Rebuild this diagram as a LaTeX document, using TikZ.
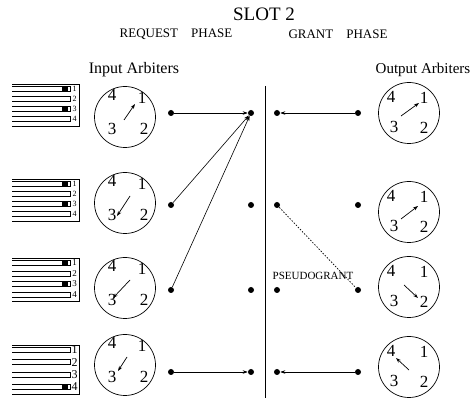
\documentclass[tikz,border=0pt]{standalone}
\usepackage{fontspec}
\setmainfont{Liberation Serif}
\usetikzlibrary{arrows.meta, positioning}
\tikzset{
    slotdiagram/.style={>={Stealth[length=5pt,width=3.5pt]}, line width=0.6pt, x=1pt, y=-1pt},
    dot/.style={fill, circle, inner sep=0pt, minimum size=6pt},
    clock/.style={draw, circle, minimum size=61pt, inner sep=0pt, line width=0.7pt},
    hour/.style={font=\fontsize{17}{17}\selectfont, inner sep=0pt},
    hand/.style={->, line width=0.7pt},
    slotnum/.style={inner sep=0pt},
    heading/.style={font=\fontsize{16}{16}\selectfont},
    phase/.style={font=\fontsize{13}{13}\selectfont},
}

\begin{document}
\begin{tikzpicture}[slotdiagram]
    \useasboundingbox (0,0) rectangle (472,398);

    % titles
    \node[font=\fontsize{19}{19}\selectfont] (slot)  at (264,14) {SLOT 2};
    \node[phase]                             (reqph) at (176,34) {REQUEST\quad PHASE};
    \node[phase]                             (grph)  at (338,34) {GRANT\quad PHASE};
    \node[heading]                           (inarb) at (134,70) {Input Arbiters};
    \node[heading, font=\fontsize{15}{15}\selectfont, inner xsep=1pt] (outarb) at (423,70) {Output\ Arbiters};

    % divider between the two phases
    \coordinate (divtop) at (265,86);
    \coordinate (divbot) at (265,398);
    \draw (divtop) -- (divbot);

    % input queues: group/first slot/spacing/label size/occupied slots
    \foreach \g/\t/\d/\fs/\full in {1/89/10/8/{1,3}, 2/184/10/8/{1,3}, 3/263/10.5/9/{1,3}, 4/350/12.3/12/{4}} {
        \pgfmathsetmacro{\bot}{\t+3*\d+7}
        \draw (12,\t-5) -- (79,\t-5) -- (79,\bot) -- (12,\bot);
        \foreach \k in {1,...,4} {
            \pgfmathsetmacro{\ya}{\t+(\k-1)*\d-2.5}
            \pgfmathsetmacro{\yb}{\t+(\k-1)*\d+2.5}
            \draw (12,\ya) -- (70,\ya) -- (70,\yb) -- (12,\yb);
            \node[slotnum, font=\fontsize{\fs}{\fs}\selectfont] (q\g n\k) at (74.5,{\t+(\k-1)*\d}) {\k};
        }
        \foreach \k in \full {
            \fill (62,{\t+(\k-1)*\d-2.5}) rectangle (68,{\t+(\k-1)*\d+2.5});
        }
    }

    % input arbiters: row/centre y/hand start/hand end
    \foreach \i/\y/\hx/\hy/\tx/\ty in {1/117/-1/3/10/-13, 2/203/5/-7/-8/13, 3/288/5/-8/-12/10, 4/365/2/-8/-7/6} {
        \node[clock] (in\i) at (125,\y) {};
        \node[hour] (in\i h4) at ([shift={(-13,-22)}]in\i.center) {4};
        \node[hour] (in\i h1) at ([shift={(17,-19)}]in\i.center) {1};
        \node[hour] (in\i h3) at ([shift={(-13,12)}]in\i.center) {3};
        \node[hour] (in\i h2) at ([shift={(19,12)}]in\i.center) {2};
        \draw[hand] ([shift={(\hx,\hy)}]in\i.center) -- ([shift={(\tx,\ty)}]in\i.center);
    }

    % output arbiters
    \foreach \i/\y/\hx/\hy/\tx/\ty in {1/113/-8/3/10/-10, 2/212/-8/7/9/-6, 3/287/-5/-2/9/11, 4/367/0/3/-13/-9} {
        \node[clock] (out\i) at (409,\y) {};
        \node[hour] (out\i h4) at ([shift={(-18,-16)}]out\i.center) {4};
        \node[hour] (out\i h1) at ([shift={(15,-15)}]out\i.center) {1};
        \node[hour] (out\i h3) at ([shift={(-15,14)}]out\i.center) {3};
        \node[hour] (out\i h2) at ([shift={(15,15)}]out\i.center) {2};
        \draw[hand] ([shift={(\hx,\hy)}]out\i.center) -- ([shift={(\tx,\ty)}]out\i.center);
    }

    % request and grant ports
    \foreach \i/\y in {1/113, 2/205, 3/290, 4/372} {
        \node[dot] (reqin\i)  at (171,\y) {};
        \node[dot] (reqout\i) at (251,\y) {};
        \node[dot] (grin\i)   at (277,\y) {};
        \node[dot] (grout\i)  at (358,\y) {};
    }

    % requests
    \draw[->] (reqin1) -- (reqout1);
    \draw[->] (reqin2) -- (reqout1);
    \draw[->] (reqin3) -- (reqout1);
    \draw[->] (reqin4) -- (reqout4);

    % grants
    \draw[->] (grout1) -- (grin1);
    \draw[->] (grout4) -- (grin4);
    \draw[dash pattern=on 1.5pt off 1.5pt, line width=0.7pt] (grin2) -- (grout3);
    \node[font=\fontsize{11}{11}\selectfont] (pseudo) at (313,276) {PSEUDOGRANT};
\end{tikzpicture}
\end{document}
